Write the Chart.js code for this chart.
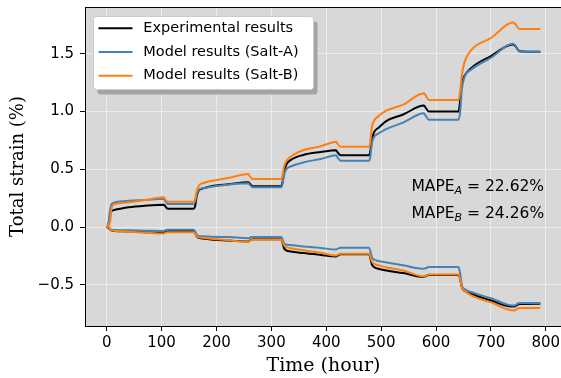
<!DOCTYPE html>
<html>
<head>
<meta charset="utf-8">
<script src="https://cdn.jsdelivr.net/npm/chart.js@4.4.1/dist/chart.umd.min.js"></script>
<style>
  html, body { margin: 0; padding: 0; overflow: hidden; background: #fff; }
  canvas { display: block; }
</style>
</head>
<body>
<canvas id="strainChart" width="572" height="378"></canvas>
<script>
// time axis (hours), shared by every curve
const hours = [0, 3, 6, 9, 15, 40, 70, 104, 107, 111, 158, 161, 164, 168, 175, 190, 222, 258, 261, 266,
    318, 320, 323, 327, 335, 358, 390, 418, 421, 426, 478, 480, 483, 487, 495, 510, 540, 578, 581, 587,
    641, 644, 647, 652, 665, 700, 740, 744, 752, 790];

// experimental results (black)
const expUpper = [0, 0.02, 0.10, 0.14, 0.15, 0.172, 0.186, 0.195, 0.18, 0.16, 0.16, 0.18, 0.27, 0.32, 0.335, 0.355, 0.372, 0.388, 0.375, 0.355,
    0.355, 0.38, 0.47, 0.54, 0.58, 0.625, 0.65, 0.665, 0.645, 0.622, 0.622, 0.65, 0.75, 0.82, 0.86, 0.92, 0.975, 1.052, 1.035, 1.0,
    1.0, 1.1, 1.24, 1.31, 1.38, 1.48, 1.58, 1.57, 1.522, 1.517];
const expLower = [0, -0.005, -0.02, -0.03, -0.033, -0.037, -0.043, -0.049, -0.04, -0.033, -0.033, -0.045, -0.08, -0.093, -0.098, -0.106, -0.115, -0.124, -0.115, -0.105,
    -0.105, -0.13, -0.18, -0.2, -0.21, -0.224, -0.24, -0.253, -0.245, -0.235, -0.235, -0.26, -0.32, -0.345, -0.36, -0.375, -0.397, -0.43, -0.423, -0.414,
    -0.414, -0.45, -0.52, -0.55, -0.578, -0.635, -0.687, -0.685, -0.665, -0.662];

// model results, Salt-A (blue)
const saltAUpper = [0, 0.02, 0.14, 0.2, 0.215, 0.228, 0.236, 0.245, 0.225, 0.2, 0.2, 0.22, 0.29, 0.325, 0.335, 0.35, 0.368, 0.38, 0.365, 0.345,
    0.345, 0.37, 0.45, 0.5, 0.525, 0.56, 0.59, 0.622, 0.6, 0.574, 0.574, 0.6, 0.72, 0.78, 0.81, 0.85, 0.905, 0.985, 0.965, 0.93,
    0.93, 1.0, 1.19, 1.3, 1.366, 1.466, 1.586, 1.575, 1.52, 1.517];
const saltALower = [0, -0.005, -0.015, -0.022, -0.024, -0.027, -0.03, -0.034, -0.028, -0.023, -0.023, -0.035, -0.065, -0.075, -0.078, -0.082, -0.086, -0.095, -0.09, -0.086,
    -0.086, -0.1, -0.14, -0.15, -0.155, -0.167, -0.18, -0.193, -0.186, -0.178, -0.178, -0.2, -0.26, -0.28, -0.292, -0.305, -0.33, -0.36, -0.355, -0.345,
    -0.345, -0.4, -0.5, -0.535, -0.563, -0.615, -0.678, -0.675, -0.655, -0.655];

// model results, Salt-B (orange)
const saltBUpper = [0, 0.025, 0.04, 0.17, 0.2, 0.215, 0.235, 0.258, 0.24, 0.22, 0.22, 0.24, 0.31, 0.36, 0.38, 0.4, 0.425, 0.46, 0.44, 0.416,
    0.416, 0.44, 0.52, 0.57, 0.61, 0.666, 0.7, 0.74, 0.72, 0.695, 0.695, 0.73, 0.86, 0.92, 0.96, 1.01, 1.06, 1.158, 1.14, 1.1,
    1.1, 1.18, 1.31, 1.43, 1.537, 1.637, 1.77, 1.76, 1.714, 1.714];
const saltBLower = [0, 0.015, -0.01, -0.028, -0.032, -0.04, -0.048, -0.055, -0.05, -0.044, -0.044, -0.055, -0.078, -0.088, -0.092, -0.1, -0.113, -0.127, -0.118, -0.107,
    -0.107, -0.125, -0.155, -0.172, -0.182, -0.2, -0.222, -0.245, -0.238, -0.23, -0.23, -0.25, -0.295, -0.316, -0.33, -0.348, -0.374, -0.426, -0.42, -0.41,
    -0.41, -0.45, -0.52, -0.55, -0.592, -0.65, -0.72, -0.718, -0.70, -0.70];

// ticks
const xTicks = [0, 100, 200, 300, 400, 500, 600, 700, 800];
const yTicks = [-0.5, 0.0, 0.5, 1.0, 1.5];
const yTickLabels = ['\u22120.5', '0.0', '0.5', '1.0', '1.5'];

const legendLabels = ['Experimental results', 'Model results (Salt-A)', 'Model results (Salt-B)'];
const mapeLines = [['A', '22.62%'], ['B', '24.26%']];

const BLACK = '#000000';
const BLUE = '#4682b4';
const ORANGE = '#ff7f0e';

function pts(vals) {
    return hours.map((h, i) => ({ x: h, y: vals[i] }));
}

function curve(vals, color, order) {
    return {
        data: pts(vals),
        borderColor: color,
        borderWidth: 2,
        pointRadius: 0,
        fill: false,
        cubicInterpolationMode: 'monotone',
        order: order
    };
}

const SANS = '"DejaVu Sans", sans-serif';
const SERIF = '"DejaVu Serif", serif';

const decor = {
    id: 'decor',
    beforeDraw(chart) {
        const { ctx, chartArea: a } = chart;
        ctx.save();
        ctx.fillStyle = '#d8d8d8';
        ctx.fillRect(a.left, a.top, a.right - a.left, a.bottom - a.top);
        ctx.restore();
    },
    afterDraw(chart) {
        const { ctx, chartArea: a } = chart;
        ctx.save();

        // top spine
        ctx.strokeStyle = '#000';
        ctx.lineWidth = 1;
        ctx.beginPath();
        ctx.moveTo(a.left, a.top + 0.5);
        ctx.lineTo(a.right, a.top + 0.5);
        ctx.stroke();

        // axis titles
        ctx.fillStyle = '#000';
        ctx.textAlign = 'center';
        ctx.textBaseline = 'middle';
        ctx.font = '19px ' + SERIF;
        ctx.fillText('Time (hour)', 323.5, 366);
        ctx.save();
        ctx.font = '18px ' + SERIF;
        ctx.translate(18, (a.top + a.bottom) / 2);
        ctx.rotate(-Math.PI / 2);
        ctx.fillText('Total strain (%)', 0, 0);
        ctx.restore();

        // legend with shadow
        const bx = 93.5, by = 16.5, bw = 220, bh = 73;
        ctx.fillStyle = '#a4a4a4';
        ctx.beginPath();
        ctx.roundRect(bx + 4, by + 5, bw, bh, 3);
        ctx.fill();
        ctx.fillStyle = '#ffffff';
        ctx.strokeStyle = '#cccccc';
        ctx.beginPath();
        ctx.roundRect(bx, by, bw, bh, 3);
        ctx.fill();
        ctx.stroke();

        const colors = [BLACK, BLUE, ORANGE];
        ctx.font = '14.5px ' + SANS;
        ctx.textAlign = 'left';
        ctx.textBaseline = 'middle';
        legendLabels.forEach((label, i) => {
            const y = 28.3 + i * 23.7;
            ctx.strokeStyle = colors[i];
            ctx.lineWidth = 2;
            ctx.beginPath();
            ctx.moveTo(98.5, y);
            ctx.lineTo(132.5, y);
            ctx.stroke();
            ctx.fillStyle = '#000';
            ctx.fillText(label, 143.3, y);
        });

        // MAPE annotation
        ctx.textBaseline = 'alphabetic';
        mapeLines.forEach((m, i) => {
            const base = 190.7 + i * 27.6;
            let x = 411.5;
            ctx.font = '15.5px ' + SANS;
            ctx.fillText('MAPE', x, base);
            x += ctx.measureText('MAPE').width;
            ctx.font = 'italic 11px ' + SANS;
            ctx.fillText(m[0], x, base + 3);
            x += ctx.measureText(m[0]).width;
            ctx.font = '15.5px ' + SANS;
            ctx.fillText(' = ' + m[1], x, base);
        });

        ctx.restore();
    }
};

const chart = new Chart(document.getElementById('strainChart'), {
    type: 'line',
    data: {
        datasets: [
            curve(expUpper, BLACK, 2),
            curve(expLower, BLACK, 2),
            curve(saltAUpper, BLUE, 1),
            curve(saltALower, BLUE, 1),
            curve(saltBUpper, ORANGE, 0),
            curve(saltBLower, ORANGE, 0)
        ]
    },
    options: {
        responsive: false,
        animation: false,
        devicePixelRatio: 1,
        layout: { padding: { top: 7, right: 10, left: 0, bottom: 0 } },
        plugins: { legend: { display: false }, tooltip: { enabled: false } },
        scales: {
            x: {
                type: 'linear',
                min: -39.5,
                max: 829.5,
                afterBuildTicks: s => { s.ticks = xTicks.map(v => ({ value: v })); },
                afterFit: s => { s.height = 52; s.paddingLeft = 0; s.paddingRight = 0; },
                ticks: {
                    font: { family: SANS, size: 15 },
                    color: '#000',
                    padding: 3,
                    maxRotation: 0,
                    callback: v => String(v)
                },
                grid: { color: '#ececec', lineWidth: 1, tickLength: 5, tickColor: '#000', tickWidth: 1 },
                border: { display: true, color: '#000', width: 1 }
            },
            y: {
                type: 'linear',
                min: -0.855,
                max: 1.905,
                afterBuildTicks: s => { s.ticks = yTicks.map(v => ({ value: v })); },
                afterFit: s => { s.width = 85; s.paddingTop = 0; s.paddingBottom = 0; },
                ticks: {
                    font: { family: SANS, size: 15 },
                    color: '#000',
                    padding: 6,
                    callback: (v, i) => yTickLabels[i]
                },
                grid: { color: '#ececec', lineWidth: 1, tickLength: 5, tickColor: '#000', tickWidth: 1 },
                border: { display: true, color: '#000', width: 1 }
            }
        }
    },
    plugins: [decor]
});
</script>
</body>
</html>
